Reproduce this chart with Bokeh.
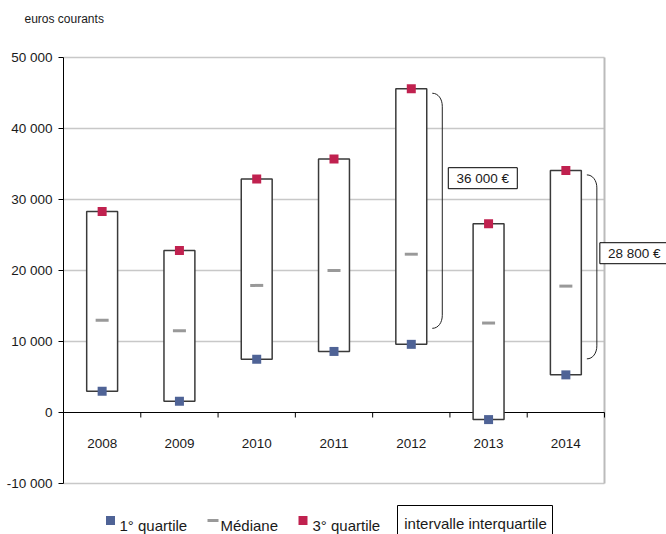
from bokeh.plotting import figure
from bokeh.models import Range1d, FixedTicker
from bokeh.embed import file_html
from bokeh.resources import INLINE
from bokeh.core.properties import value

# ---------------- data ----------------
years = ["2008", "2009", "2010", "2011", "2012", "2013", "2014"]
q1 = [3000, 1600, 7500, 8600, 9600, -1000, 5300]
median = [13000, 11500, 17900, 20000, 22300, 12600, 17800]
q3 = [28300, 22800, 32900, 35700, 45600, 26600, 34100]
y_ticks = [-10000, 0, 10000, 20000, 30000, 40000, 50000]
annotated_years = ["2012", "2014"]
unit_label = "euros courants"
legend_labels = ["1° quartile", "Médiane", "3° quartile", "intervalle interquartile"]

# ---------------- style / layout ----------------
FONT = "Liberation Sans"
Q1_COLOR = "#4F6396"
Q3_COLOR = "#C0214F"
MED_COLOR = "#999999"
GRID_COLOR = "#C8C8C8"
TEXT_COLOR = "#1a1a1a"
AXIS_FS = "13.5px"
LEG_FS = "15px"

W, H = 666, 534
FRAME_LEFT = 63
TOP = 26
PX_PER_CAT = 541 / 7
PX_PER_UNIT = 355 / 50000
ZERO_PX = 412  # canvas pixel of y = 0


def X(px):
    return -0.5 + (px - FRAME_LEFT) / PX_PER_CAT


def Y(px):
    return (ZERO_PX - px) / PX_PER_UNIT


def DX(px):
    return px / PX_PER_CAT


def DY(px):
    return px / PX_PER_UNIT


def fmt(v):
    return f"{v:,}".replace(",", " ")


n = len(years)
idx = list(range(n))
x_start = -0.5
x_end = x_start + (W - FRAME_LEFT) / PX_PER_CAT
y_end = (ZERO_PX - TOP) / PX_PER_UNIT
y_start = -(H - ZERO_PX) / PX_PER_UNIT

p = figure(width=W, height=H, x_range=Range1d(x_start, x_end), y_range=Range1d(y_start, y_end),
           x_axis_location=None, y_axis_location="left", toolbar_location=None,
           output_backend="svg", min_border_left=FRAME_LEFT, min_border_right=0,
           min_border_top=TOP, min_border_bottom=0)
p.outline_line_color = None
p.grid.visible = False
p.background_fill_color = "white"
p.border_fill_color = "white"

p.title.text = unit_label
p.title.align = "left"
p.title.offset = -39
p.title.standoff = 2
p.title.text_font = FONT
p.title.text_font_size = "12px"
p.title.text_font_style = "normal"
p.title.text_color = TEXT_COLOR

yax = p.yaxis[0]
yax.ticker = FixedTicker(ticks=y_ticks, minor_ticks=[])
yax.bounds = (y_ticks[0], y_ticks[-1])
yax.major_label_overrides = {t: fmt(t) for t in y_ticks}
yax.axis_line_color = "black"
yax.axis_line_width = 1
yax.major_tick_line_color = "black"
yax.major_tick_out = 5
yax.major_tick_in = 0
yax.minor_tick_line_color = None
yax.major_label_standoff = 6
yax.major_label_text_font = FONT
yax.major_label_text_font_size = AXIS_FS
yax.major_label_text_color = TEXT_COLOR

# gridlines and right border
grid_y = [t for t in y_ticks if t != 0]
p.segment(x0=[-0.5] * len(grid_y), y0=grid_y, x1=[n - 0.5] * len(grid_y), y1=grid_y,
          line_color=GRID_COLOR, line_width=1.5)
p.segment(x0=[n - 0.5], y0=[y_ticks[0]], x1=[n - 0.5], y1=[y_ticks[-1]],
          line_color="#BBBBBB", line_width=2)

# x axis at y = 0
p.segment(x0=[-0.5], y0=[0], x1=[n - 0.5], y1=[0], line_color="black", line_width=1)
bx = [i + 0.5 for i in idx]
p.segment(x0=bx, y0=[0] * n, x1=bx, y1=[-DY(5)] * n, line_color="black", line_width=1)
p.text(x=idx, y=[0] * n, text=years, y_offset=31, text_baseline="alphabetic", text_align="center",
       text_font=value(FONT), text_font_size=AXIS_FS, text_color=TEXT_COLOR)

# boxes
p.vbar(x=idx, width=0.4, bottom=q1, top=q3, fill_color="white", line_color="#3a3a3a", line_width=1.5)
p.rect(x=idx, y=median, width=13, height=3, width_units="screen", height_units="screen",
       fill_color=MED_COLOR, line_color=None)
p.scatter(x=idx, y=q1, marker="square", size=9, fill_color=Q1_COLOR, line_color=None)
p.scatter(x=idx, y=q3, marker="square", size=9, fill_color=Q3_COLOR, line_color=None)

# brackets + interquartile labels
ANN_BOX_OFFSET = [37, 34]
ANN_BOX_FRAC = [0.65, 0.595]
ann_idx = [years.index(y) for y in annotated_years]
for k, i in enumerate(ann_idx):
    xa = i + DX(21)
    xb = i + DX(31)
    ytop = q3[i] - DY(4.5)
    ybot = q1[i] + DY(16)
    r = DY(13)
    p.bezier(x0=[xa], y0=[ytop], x1=[xb], y1=[ytop - r],
             cx0=[xa + 0.6 * (xb - xa)], cy0=[ytop], cx1=[xb], cy1=[ytop - 0.45 * r],
             line_color="#222222", line_width=1)
    p.segment(x0=[xb], y0=[ytop - r], x1=[xb], y1=[ybot + r], line_color="#222222", line_width=1)
    p.bezier(x0=[xb], y0=[ybot + r], x1=[xa], y1=[ybot],
             cx0=[xb], cy0=[ybot + 0.45 * r], cx1=[xa + 0.6 * (xb - xa)], cy1=[ybot],
             line_color="#222222", line_width=1)
    cx = i + DX(ANN_BOX_OFFSET[k] + 34.5)
    cy = q1[i] + ANN_BOX_FRAC[k] * (q3[i] - q1[i])
    p.rect(x=[cx], y=[cy], width=69, height=21, width_units="screen", height_units="screen",
           fill_color="white", line_color="black", line_width=1)
    p.text(x=[cx], y=[cy], text=[fmt(q3[i] - q1[i]) + " €"], text_align="center",
           text_baseline="middle", text_font=value(FONT), text_font_size=AXIS_FS,
           text_color=TEXT_COLOR)

# legend
p.scatter(x=[X(110)], y=[Y(520)], marker="square", size=9, fill_color=Q1_COLOR, line_color=None)
p.rect(x=[X(212.5)], y=[Y(520)], width=11, height=3, width_units="screen", height_units="screen",
       fill_color=MED_COLOR, line_color=None)
p.scatter(x=[X(302.5)], y=[Y(520)], marker="square", size=9, fill_color=Q3_COLOR, line_color=None)
p.text(x=[X(119), X(220), X(312)], y=[Y(525)] * 3, text=legend_labels[:3], text_align="left",
       text_baseline="alphabetic", text_font=value(FONT), text_font_size=LEG_FS,
       text_color=TEXT_COLOR)
p.rect(x=[X(474.5)], y=[Y(520)], width=155, height=30, width_units="screen", height_units="screen",
       fill_color=None, line_color="black", line_width=1)
p.text(x=[X(475)], y=[Y(523)], text=[legend_labels[3]], text_align="center",
       text_baseline="alphabetic", text_font=value(FONT), text_font_size=LEG_FS,
       text_color=TEXT_COLOR)

open("out.html", "w", encoding="utf-8").write(file_html(p, INLINE))
